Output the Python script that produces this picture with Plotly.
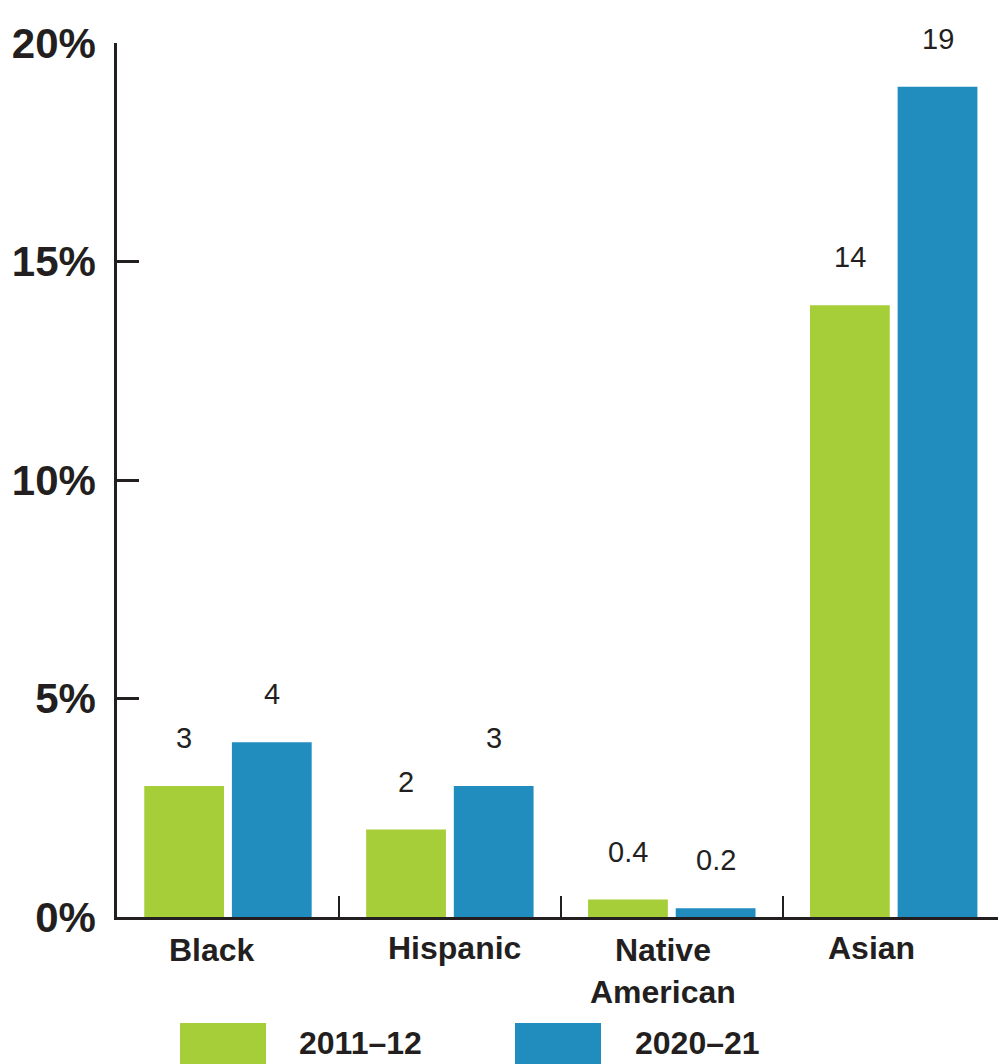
import plotly.graph_objects as go

categories = ["Black", "Hispanic", "Native<br>American", "Asian"]
series_names = ["2011–12", "2020–21"]
values_2011 = [3, 2, 0.4, 14]
values_2020 = [4, 3, 0.2, 19]
value_labels_2011 = ["3", "2", "0.4", "14"]
value_labels_2020 = ["4", "3", "0.2", "19"]
y_ticks = [0, 5, 10, 15, 20]
y_tick_labels = ["0%", "5%", "10%", "15%", "20%"]

GREEN = "#A6CE39"
BLUE = "#218DBF"
INK = "#231F20"
FONT = "Liberation Sans, Arial, sans-serif"

fig = go.Figure()
fig.add_trace(go.Bar(name=series_names[0], x=categories, y=values_2011,
                     marker=dict(color=GREEN, line=dict(width=0))))
fig.add_trace(go.Bar(name=series_names[1], x=categories, y=values_2020,
                     marker=dict(color=BLUE, line=dict(width=0))))

annotations = []
for cat, v, t in zip(categories, values_2011, value_labels_2011):
    annotations.append(dict(x=cat, y=v, text=t, showarrow=False, xref="x", yref="y",
                            xshift=-44, yshift=30, yanchor="bottom",
                            font=dict(family=FONT, size=29, color=INK)))
for cat, v, t in zip(categories, values_2020, value_labels_2020):
    annotations.append(dict(x=cat, y=v, text=t, showarrow=False, xref="x", yref="y",
                            xshift=44, yshift=30, yanchor="bottom",
                            font=dict(family=FONT, size=29, color=INK)))

# category labels (slightly offset from category centres as in the original)
label_xshift = [-16, 5, -9, -22]
label_yshift = [-13, -11, -13, -11]
for cat, dx, dy in zip(categories, label_xshift, label_yshift):
    annotations.append(dict(x=cat, y=0, xref="x", yref="y", text="<b>" + cat + "</b>",
                            showarrow=False, xshift=dx, yshift=dy, yanchor="top",
                            font=dict(family=FONT, size=32, color=INK)))

W, H = 998, 1064
L, T, B = 117, 43, 147
PW, PH = W - L, H - T - B

legend_items = [(series_names[0], GREEN, 180, 297), (series_names[1], BLUE, 515, 633)]
shapes = []
for name, col, sx, tx in legend_items:
    x0 = (sx - L) / PW
    x1 = (sx + 86 - L) / PW
    y_top = (917 - 1023) / PH
    y_bot = (917 - 1070) / PH
    shapes.append(dict(type="rect", xref="paper", yref="paper",
                       x0=x0, x1=x1, y0=y_bot, y1=y_top,
                       line=dict(width=0), fillcolor=col, layer="above"))
    annotations.append(dict(x=(tx - L) / PW, y=(917 - 1043) / PH,
                            xref="paper", yref="paper", text="<b>" + name + "</b>",
                            showarrow=False, xanchor="left", yanchor="middle",
                            font=dict(family=FONT, size=32, color=INK)))

fig.update_layout(
    width=W, height=H,
    margin=dict(l=L, r=0, t=T, b=B),
    paper_bgcolor="white", plot_bgcolor="white",
    barmode="group", bargap=0.21, bargroupgap=0.09,
    showlegend=False,
    annotations=annotations, shapes=shapes,
    font=dict(family=FONT, color=INK),
)
fig.update_xaxes(
    range=[-0.5, 3.47], showgrid=False, zeroline=False,
    showline=True, linecolor=INK, linewidth=2.5,
    ticks="inside", tickson="boundaries", ticklen=21, tickwidth=2, tickcolor=INK,
    showticklabels=False,
)
fig.update_yaxes(
    range=[0, 20], showgrid=False, zeroline=False,
    showline=True, linecolor=INK, linewidth=2.5,
    ticks="inside", ticklen=22, tickwidth=2.5, tickcolor=INK,
    tickvals=y_ticks, ticktext=["<b>" + t + "</b>" for t in y_tick_labels],
    tickfont=dict(family=FONT, size=42, color=INK), ticklabelstandoff=10,
)

fig.write_html("out.html", config={"displayModeBar": False},
               post_script="document.body.style.margin='0';")
